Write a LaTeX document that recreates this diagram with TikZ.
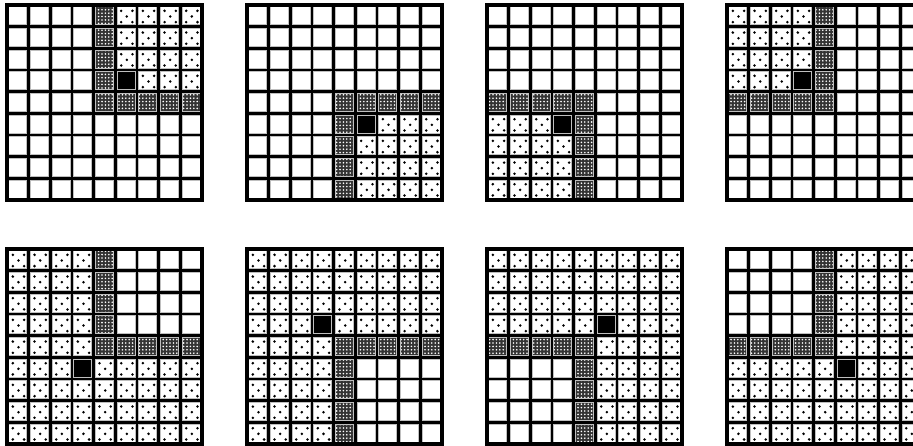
\documentclass[tikz,border=0pt]{standalone}
\usetikzlibrary{patterns}

\pgfdeclarepatternformonly{cellcheck}{\pgfqpoint{-1pt}{-1pt}}{\pgfqpoint{1pt}{1pt}}{\pgfqpoint{3.4pt}{3.4pt}}{%
  \pgfpathcircle{\pgfqpoint{0pt}{0pt}}{0.9pt}\pgfusepath{fill}}

\newcommand{\cellsize}{21.67}
% #1,#2 top left corner, #3,#4 side of the quarter, #5 = 1 dotted quarter, 0 white quarter
\newcommand{\cellgrid}[5]{%
  \foreach \c in {0,...,8}{
    \foreach \r in {0,...,8}{
      \pgfmathtruncatemacro\du{#3*(\c-4)}
      \pgfmathtruncatemacro\dv{#4*(\r-4)}
      \pgfmathtruncatemacro\kind{((\du==0 && \dv>=0) || (\dv==0 && \du>=0)) ? 3 : ((\du==2*#5-1 && \dv==2*#5-1) ? 2 : (((\du>0 && \dv>0)==#5) ? 1 : 0))}
      \coordinate (p) at (#1+\c*\cellsize,#2+\r*\cellsize);
      \ifcase\kind\relax
        \fill[white] (p) rectangle ++(\cellsize,\cellsize);
      \or
        \fill[white] (p) rectangle ++(\cellsize,\cellsize);
        \foreach \a/\b in {0.27/0.27,0.79/0.27,0.53/0.53,0.27/0.79,0.79/0.79}
          \fill[shift={(p)}] (\a*\cellsize,\b*\cellsize) circle (1.4pt);
      \or
        \fill[black] (p) rectangle ++(\cellsize,\cellsize);
      \or
        \fill[black!80] (p) rectangle ++(\cellsize,\cellsize);
        \fill[pattern=cellcheck,pattern color=white] (p) rectangle ++(\cellsize,\cellsize);
      \fi
    }
  }
  \foreach \i in {0,...,9}{
    \draw[rim] (#1+\i*\cellsize,#2) -- ++(0,9*\cellsize);
    \draw[rim] (#1,#2+\i*\cellsize) -- ++(9*\cellsize,0);
  }
  \foreach \i in {0,...,9}{
    \draw[rule] (#1+\i*\cellsize,#2) -- ++(0,9*\cellsize);
    \draw[rule] (#1,#2+\i*\cellsize) -- ++(9*\cellsize,0);
  }
  \draw[rule,line width=3.2pt] (#1,#2) rectangle ++(9*\cellsize,9*\cellsize);
}

\begin{document}
\begin{tikzpicture}[x=1pt,y=-1pt,
  rim/.style={gray!50,line width=4.8pt},
  rule/.style={black,line width=2.7pt}]
\useasboundingbox (0,0) rectangle (913,445);
\fill[white] (0,0) rectangle (913,445);
\clip (0,0) rectangle (913,445);
\foreach \gx/\gy/\sx/\sy/\m in {7/5/1/-1/1, 247/5/1/1/1, 487/5/-1/1/1, 727/5/-1/-1/1,
                               7/249/1/-1/0, 247/249/1/1/0, 487/249/-1/1/0, 727/249/-1/-1/0}
  \cellgrid{\gx}{\gy}{\sx}{\sy}{\m};
\end{tikzpicture}
\end{document}
